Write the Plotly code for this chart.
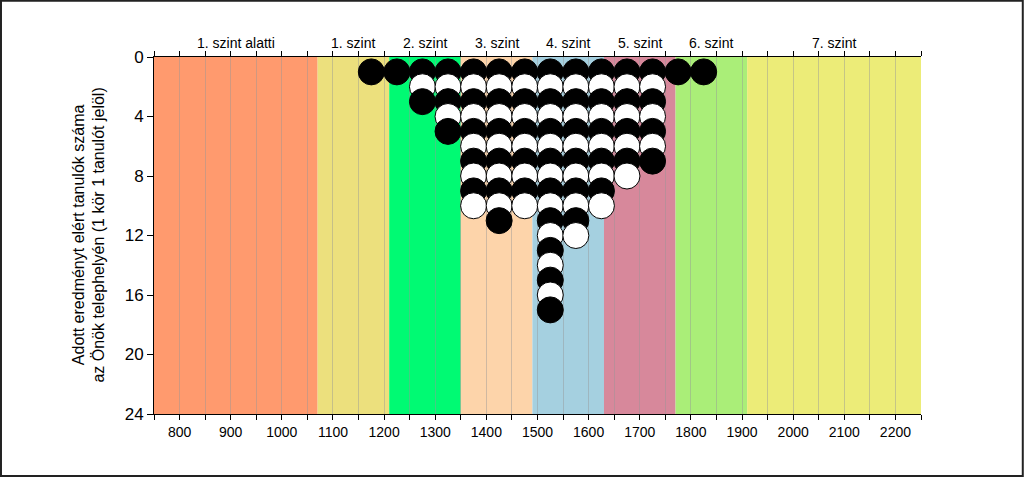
import plotly.graph_objects as go

# score bins (column centres) and number of students in each
score_bins = [1175, 1225, 1275, 1325, 1375, 1425, 1475, 1525, 1575, 1625, 1675, 1725, 1775, 1825]
counts = [1, 1, 3, 5, 10, 11, 10, 17, 12, 10, 8, 7, 1, 1]

# proficiency levels
level_names = ["1. szint alatti", "1. szint", "2. szint", "3. szint", "4. szint", "5. szint", "6. szint", "7. szint"]
level_edges = [750, 1070, 1210, 1350, 1490, 1630, 1770, 1910, 2250]
level_colors = ["#FF9A6E", "#ECE07D", "#00FA73", "#FDD4AA", "#A5D0E0", "#D7889B", "#AAEE78", "#ECEC78"]

x_ticks = list(range(800, 2201, 100))
y_ticks = [0, 4, 8, 12, 16, 20, 24]

# one circle per student, stacked from the top, drawn row by row
xs, ys, fills = [], [], []
for row in range(1, max(counts) + 1):
    for sx, c in zip(score_bins, counts):
        if c >= row:
            xs.append(sx)
            ys.append(row)
            fills.append("black" if row % 2 == 1 else "white")

fig = go.Figure()
fig.add_trace(go.Scatter(
    x=xs, y=ys, mode="markers",
    marker=dict(size=26, color=fills, line=dict(color="black", width=1)),
    hoverinfo="x+y", showlegend=False,
))

shapes = []
for i, col in enumerate(level_colors):
    shapes.append(dict(type="rect", xref="x", yref="paper",
                       x0=level_edges[i], x1=level_edges[i + 1], y0=0, y1=1,
                       fillcolor=col, line=dict(width=0), layer="below"))
# outer frame around the whole picture
shapes.append(dict(type="rect", xref="paper", yref="paper",
                   x0=-0.1995, x1=1.1327, y0=-0.1737, y1=1.1575,
                   line=dict(color="#222222", width=2), fillcolor="rgba(0,0,0,0)"))

annotations = []
for i, name in enumerate(level_names):
    annotations.append(dict(x=(level_edges[i] + level_edges[i + 1]) / 2, y=1.0, yshift=4,
                            xref="x", yref="paper", text=name, showarrow=False,
                            yanchor="bottom", font=dict(size=14, color="black")))
annotations.append(dict(x=-0.086, y=0.5, xref="paper", yref="paper", textangle=-90,
                        xanchor="center", yanchor="middle",
                        text="Adott eredményt elért tanulók száma<br>az Önök telephelyén (1 kör 1 tanulót jelöl)",
                        showarrow=False, font=dict(size=16, color="black")))

fig.update_layout(
    width=1024, height=478,
    margin=dict(l=154, r=103, t=57, b=64),
    paper_bgcolor="white", plot_bgcolor="white",
    font=dict(family="Liberation Sans, Arial, sans-serif", color="black"),
    shapes=shapes, annotations=annotations,
    xaxis=dict(range=[750, 2250], tickvals=x_ticks, ticks="outside", ticklen=5,
               tickcolor="black", showline=True, linecolor="black", linewidth=1,
               mirror="ticks", showgrid=False, zeroline=False,
               tickfont=dict(size=14),
               minor=dict(tick0=750, dtick=50, ticks="outside", ticklen=5,
                          tickcolor="black", showgrid=True,
                          gridcolor="rgba(150,150,150,0.45)", gridwidth=1)),
    yaxis=dict(range=[24, 0], tickvals=y_ticks, ticks="outside", ticklen=6,
               tickcolor="black", showline=True, linecolor="black", linewidth=1,
               showgrid=False, zeroline=False, tickfont=dict(size=17)),
)

fig.write_html("out.html", config={"displayModeBar": False},
               post_script="document.body.style.margin='0';")
